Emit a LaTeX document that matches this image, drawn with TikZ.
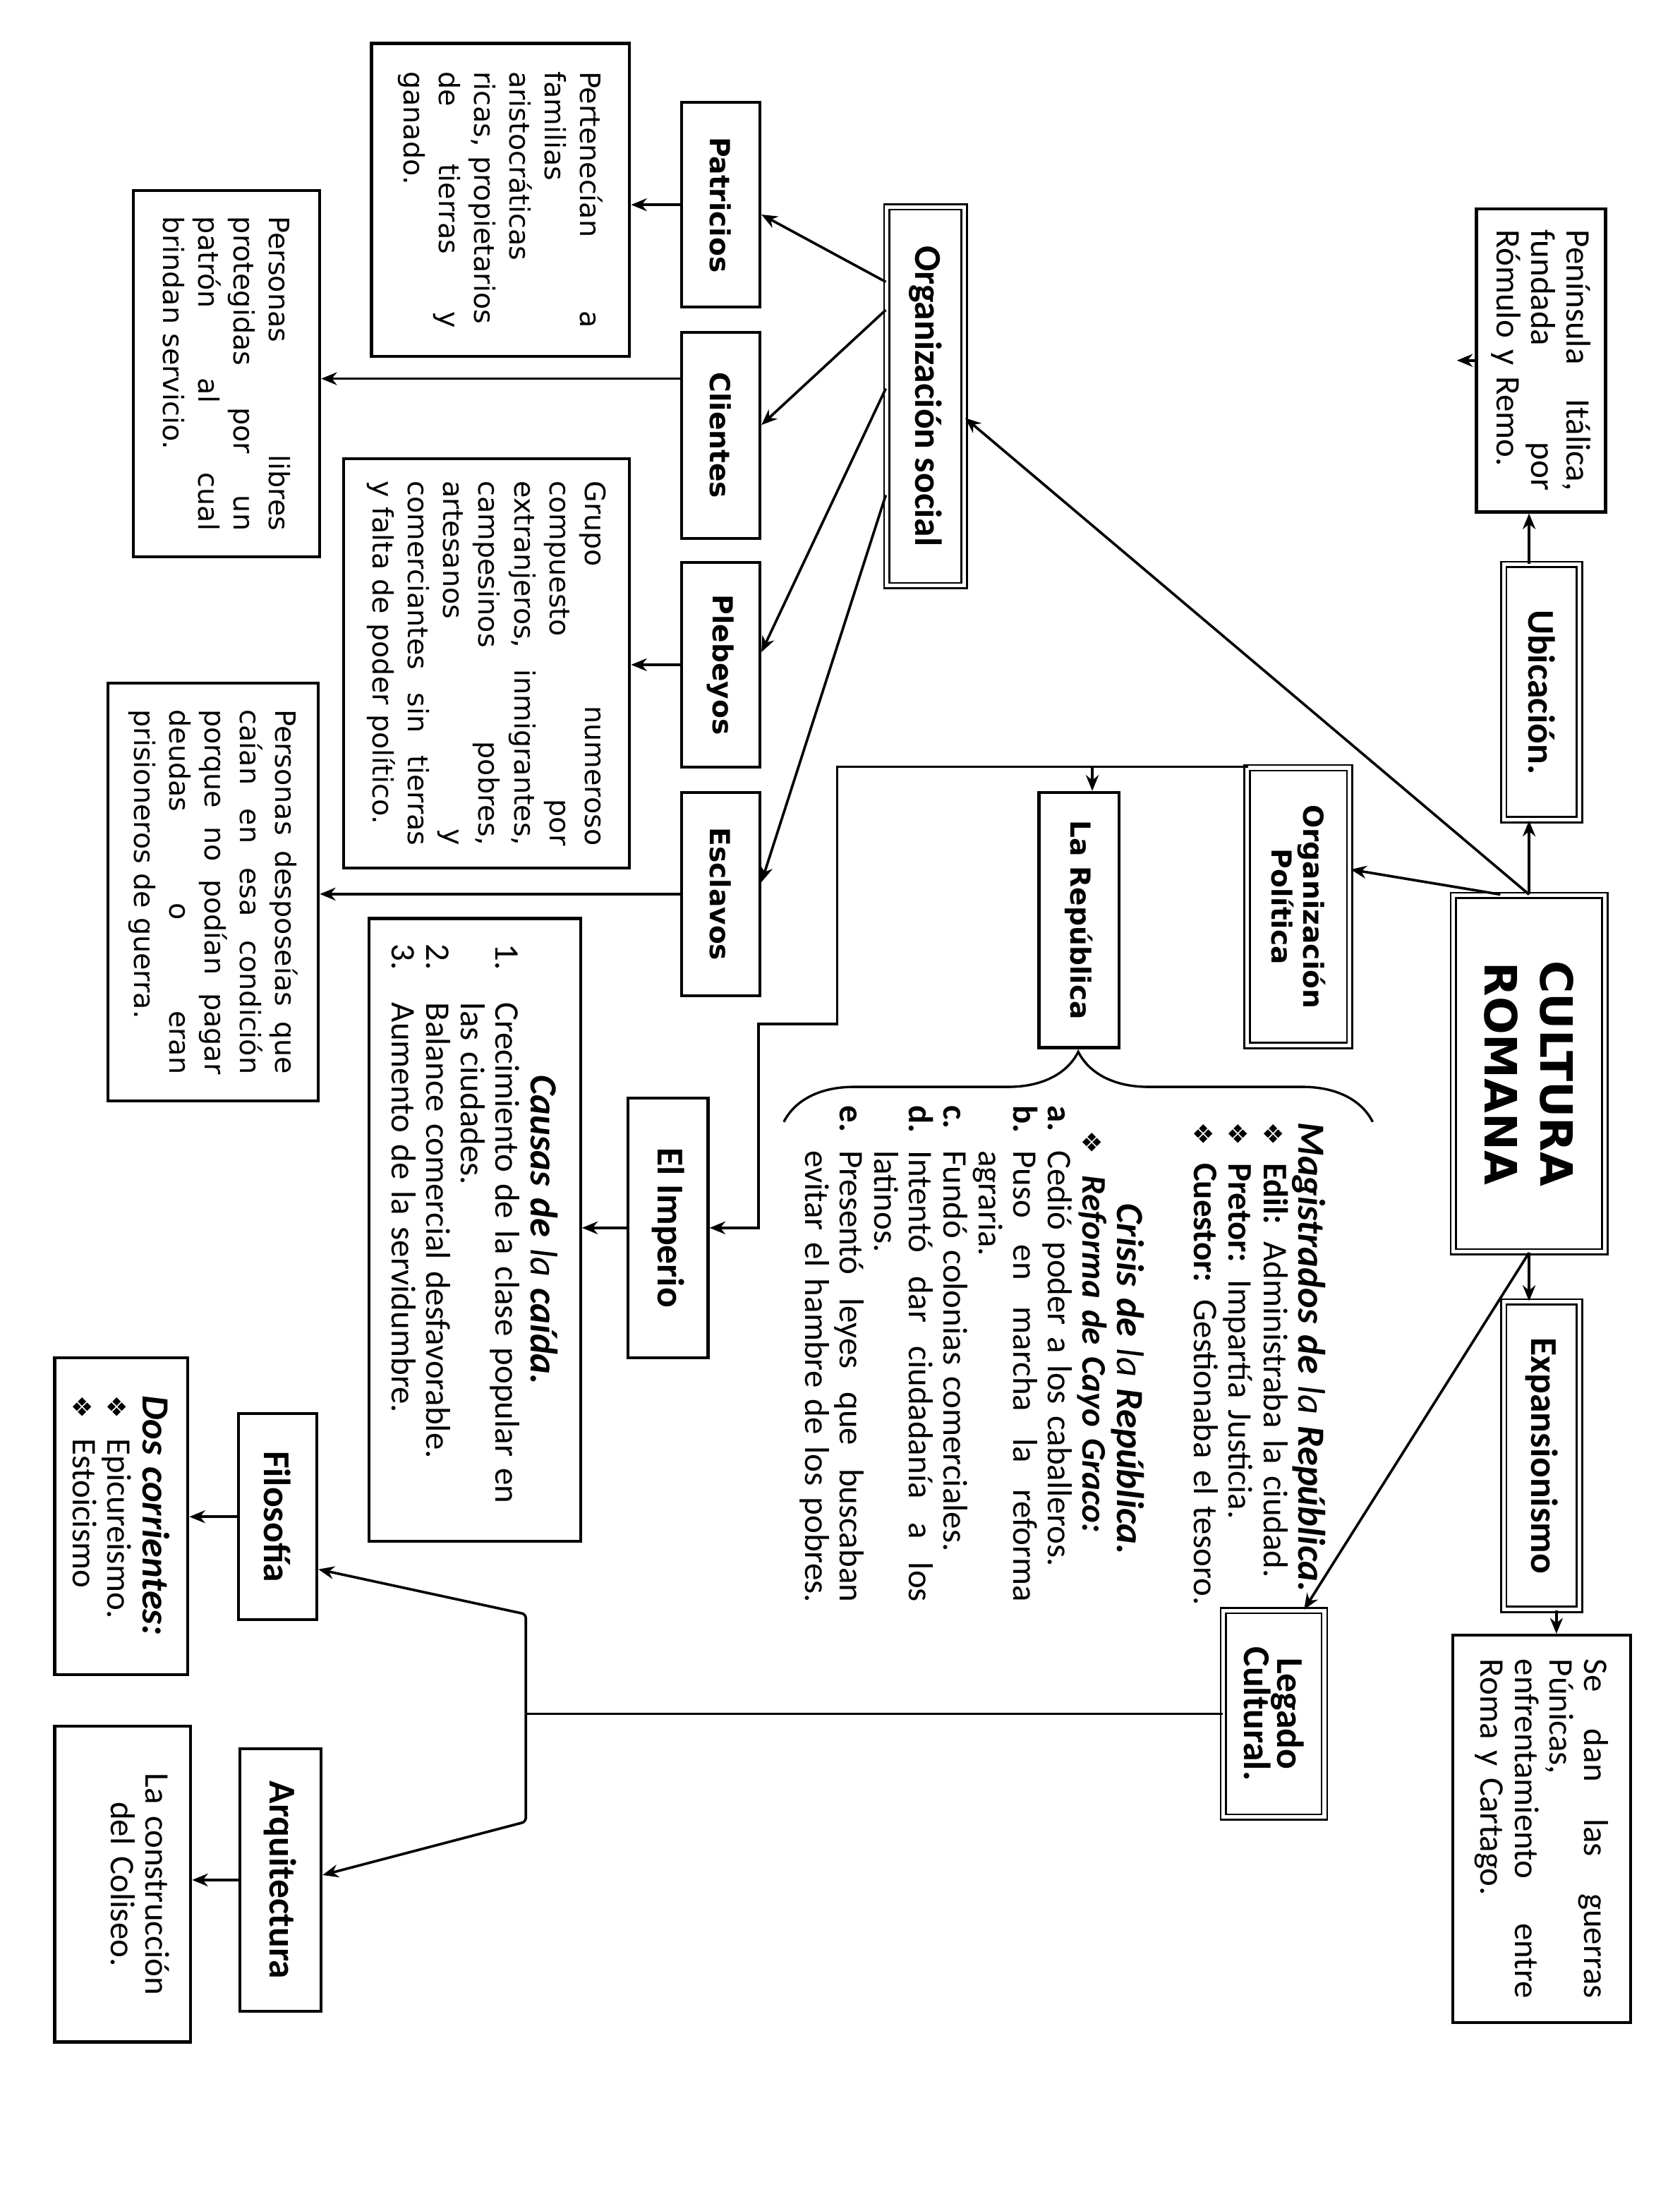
\documentclass[tikz,border=0pt]{standalone}
\usepackage{fontspec}
\setmainfont{Carlito}
\newfontfamily\vfont{DejaVu Sans}
\usetikzlibrary{arrows.meta,decorations.pathreplacing}
\lineskiplimit=-20pt
\hyphenpenalty=10000

\newcommand{\orn}{{\vfont\fontsize{13}{13}\selectfont ❖}}
\newcommand{\vbody}{\vfont\fontsize{14.2}{17.9}\selectfont}
\newcommand{\vhead}{\vfont\bfseries\fontsize{14}{16}\selectfont}
\newcommand{\cbody}{\fontsize{17.5}{17.6}\selectfont}
\newcommand{\chead}{\bfseries\fontsize{19.2}{17}\selectfont}
\newcommand{\ctitle}{\fontsize{19.5}{17.6}\selectfont}

\tikzset{
  box/.style={draw, line width=1.5pt, rotate=-90, inner sep=0pt, align=center},
  dbox/.style={box, line width=0.95pt, double, double distance=1.8pt},
  conn/.style={line width=1.3pt, -{Stealth[length=8pt,width=6.5pt]}},
  link/.style={line width=1.3pt}
}

\begin{document}
\begin{tikzpicture}[x=0.025cm, y=-0.025cm]
    \useasboundingbox (0,0) rectangle (1198,1568);

    % --- CENTRE AND RIGHT BRANCHES ---
    \node[dbox, minimum width=6.35cm, minimum height=2.7cm, font=\vfont\bfseries\fontsize{22.6}{28.3}\selectfont] (cult) at (1090.5,765.5) {CULTURA\\ROMANA};
    \node[dbox, minimum width=4.55cm, minimum height=1.35cm, font=\chead] (ubic) at (1099.5,493.5) {Ubicación.};
    \node[box, align=left, text width=4.65cm, minimum width=5.4cm, minimum height=2.3cm, font=\cbody] (pen) at (1099,257) {Península\hfill Itálica,\\fundada\hfill por\\Rómulo y Remo.};
    \node[dbox, minimum width=5.48cm, minimum height=1.35cm, font=\chead] (expan) at (1099.5,1038) {Expansionismo};
    \node[box, align=left, text width=6.05cm, minimum width=6.9cm, minimum height=3.175cm, font=\cbody] (sedan) at (1099.5,1304) {Se\hfill dan\hfill las\hfill guerras\\Púnicas,\\enfrentamiento\hfill entre\\Roma y Cartago.};
    \node[dbox, minimum width=3.68cm, minimum height=1.8cm, font=\chead] (legado) at (908.5,1222) {Legado\\Cultural.};
    \node[dbox, minimum width=4.95cm, minimum height=1.83cm, font=\vhead] (orgpol) at (926,646.5) {Organización\\Política};
    \node[box, minimum width=4.55cm, minimum height=1.425cm, font=\vhead] (repub) at (769.5,656) {La República};

    % --- REPUBLIC NOTES ---
    \node[rotate=-90, anchor=base west, inner sep=0pt, text width=8.75cm, align=left, font=\cbody] (magis) at (926,800) {%
        {\ctitle\textbf{\textit{Magistrados de}} \textit{la} \textbf{\textit{República.}}}\\
        \makebox[0.725cm][l]{\orn}\textbf{Edil:} Administraba la ciudad.\\
        \makebox[0.725cm][l]{\orn}\textbf{Pretor:} Impartía Justicia.\\
        \makebox[0.725cm][l]{\orn}\textbf{Cuestor:} Gestionaba el tesoro.};
    \node[rotate=-90, anchor=base west, inner sep=0pt, text width=8.85cm, align=left, font=\cbody] (crisis) at (797,788) {%
        \hspace*{1.75cm}{\ctitle\textbf{\textit{Crisis de}} \textit{la} \textbf{\textit{República.}}}\\
        \hspace*{0.45cm}\makebox[0.8cm][l]{\orn}\textbf{\textit{Reforma de Cayo Graco:}}\\
        \makebox[0.8cm][l]{\textbf{a.}}Cedió poder a los caballeros.\\
        \makebox[0.8cm][l]{\textbf{b.}}Puso\hfill en\hfill marcha\hfill la\hfill reforma\\
        \hspace*{0.8cm}agraria.\\
        \makebox[0.8cm][l]{\textbf{c.}}Fundó colonias comerciales.\\
        \makebox[0.8cm][l]{\textbf{d.}}Intentó\hfill dar\hfill ciudadanía\hfill a\hfill los\\
        \hspace*{0.8cm}latinos.\\
        \makebox[0.8cm][l]{\textbf{e.}}Presentó\hfill leyes\hfill que\hfill buscaban\\
        \hspace*{0.8cm}\mbox{evitar el hambre de los pobres.}};
    \coordinate (brL) at (559,800);
    \coordinate (brR) at (979,800);
    \draw[line width=1.2pt, decorate, decoration={brace, amplitude=1.25cm}] (brL) -- (brR);

    % --- SOCIAL ORGANISATION ---
    \node[dbox, minimum width=6.75cm, minimum height=1.38cm, font=\chead] (orgsoc) at (660,282.5) {Organización social};
    \node[box, minimum width=3.65cm, minimum height=1.4cm, font=\vhead] (patr) at (514,146) {Patricios};
    \node[box, minimum width=3.675cm, minimum height=1.4cm, font=\vhead] (clien) at (514,310.5) {Clientes};
    \node[box, minimum width=3.65cm, minimum height=1.4cm, font=\vhead] (pleb) at (514,474) {Plebeyos};
    \node[box, minimum width=3.625cm, minimum height=1.4cm, font=\vhead] (escl) at (514,637.5) {Esclavos};
    \node[box, align=left, text width=4.575cm, minimum width=5.575cm, minimum height=4.6cm, font=\vbody] (pert) at (357,142.5) {Pertenecían\hfill a\\familias\\aristocráticas\\ricas, propietarios\\de\hfill tierras\hfill y\\ganado.};
    \node[box, align=left, text width=5.6cm, minimum width=6.525cm, minimum height=3.325cm, font=\vbody] (libres) at (161.5,266.5) {Personas\hfill libres\\protegidas\hfill por\hfill un\\patrón\hfill al\hfill cual\\brindan servicio.};
    \node[box, align=left, text width=6.5cm, minimum width=7.3cm, minimum height=5.1cm, font=\vbody] (grupo) at (347,473) {Grupo\hfill numeroso\\compuesto\hfill por\\extranjeros,\hfill inmigrantes,\\campesinos\hfill pobres,\\artesanos\hfill y\\comerciantes\hfill sin\hfill tierras\\y falta de poder político.};
    \node[box, align=left, text width=6.5cm, minimum width=7.45cm, minimum height=3.75cm, font=\vbody] (despo) at (152,636) {Personas\hfill desposeías\hfill que\\caían\hfill en\hfill esa\hfill condición\\porque\hfill no\hfill podían\hfill pagar\\deudas\hfill o\hfill eran\\prisioneros de guerra.};

    % --- EMPIRE ---
    \node[box, minimum width=4.625cm, minimum height=1.425cm, font=\chead] (imper) at (476.5,875.5) {El Imperio};
    \node[box, align=left, text width=10.2cm, minimum width=11.1cm, minimum height=3.775cm, font=\cbody] (causas) at (338.5,877) {%
        \makebox[\linewidth][c]{\ctitle\textbf{\textit{Causas de}} \textit{la} \textbf{\textit{caída.}}}\\
        \makebox[1.05cm][l]{1.}Crecimiento de la clase popular en\\
        \hspace*{1.05cm}las ciudades.\\
        \makebox[1.05cm][l]{2.}Balance comercial desfavorable.\\
        \makebox[1.05cm][l]{3.}Aumento de la servidumbre.};

    % --- CULTURAL LEGACY ---
    \node[box, minimum width=3.675cm, minimum height=1.4cm, font=\chead] (filo) at (198,1081.5) {Filosofía};
    \node[box, align=left, text width=4.3cm, minimum width=5.65cm, minimum height=2.375cm, font=\cbody] (dos) at (86.5,1081) {%
        {\ctitle\textbf{\textit{Dos corrientes:}}}\\
        \makebox[0.775cm][l]{\orn}Epicureismo.\\
        \makebox[0.775cm][l]{\orn}Estoicismo};
    \node[box, minimum width=4.675cm, minimum height=1.45cm, font=\chead] (arq) at (200,1340.5) {Arquitectura};
    \node[box, text width=5cm, minimum width=5.625cm, minimum height=2.425cm, font=\cbody] (colis) at (87.5,1343.5) {La construcción\\del Coliseo.\\\mbox{}};

    % --- CONNECTORS ---
    \draw[conn] (cult.west) -- (cult.west |- ubic.east);
    \draw[conn] (cult.west |- ubic.west) -- (cult.west |- pen.east);
    \coordinate (penstub) at (1039,257);
    \draw[conn] (pen.south) -- (penstub);
    \draw[conn] (1070,0 |- cult.west) -- (orgpol.north |- 0,620);
    \draw[conn] (cult.west) -- (orgsoc.north |- 0,298);
    \draw[conn] (cult.east) -- (cult.east |- expan.west);
    \draw[conn] (1110,0 |- expan.east) -- (1110,0 |- sedan.west);
    \draw[conn] (cult.east) -- (930,0 |- legado.west);

    % social branches
    \draw[conn] (orgsoc.south |- 0,201) -- (patr.north |- 0,153);
    \draw[conn] (orgsoc.south |- 0,221) -- (clien.north |- 0,303);
    \draw[conn] (orgsoc.south |- 0,277) -- (pleb.north |- 0,465);
    \draw[conn] (orgsoc.south |- 0,353) -- (escl.north |- 0,629);
    \draw[conn] (patr.south) -- (patr.south -| pert.north);
    \draw[conn] (clien.south |- 0,270) -- (libres.north |- 0,270);
    \draw[conn] (pleb.south) -- (pleb.south -| grupo.north);
    \draw[conn] (escl.south) -- (escl.south -| despo.north);

    % political branches
    \draw[conn] (890,0 |- orgpol.west) -| (597,730) -| (541,0 |- imper.north) -- (imper.north);
    \draw[conn] (779,0 |- orgpol.west) -- (779,0 |- repub.west);
    \draw[conn] (imper.south) -- (imper.south -| causas.north);

    % legacy branches
    \coordinate (jleg) at (legado.south -| 375,0);
    \draw[link] (legado.south) -- (jleg);
    \draw[conn, rounded corners=2pt] (jleg) -- (jleg |- 0,1151) -- (filo.north |- 0,1119);
    \draw[conn, rounded corners=2pt] (jleg) -- (jleg |- 0,1299) -- (arq.north |- 0,1337);
    \draw[conn] (filo.south) -- (filo.south -| dos.north);
    \draw[conn] (arq.south) -- (arq.south -| colis.north);
\end{tikzpicture}
\end{document}
